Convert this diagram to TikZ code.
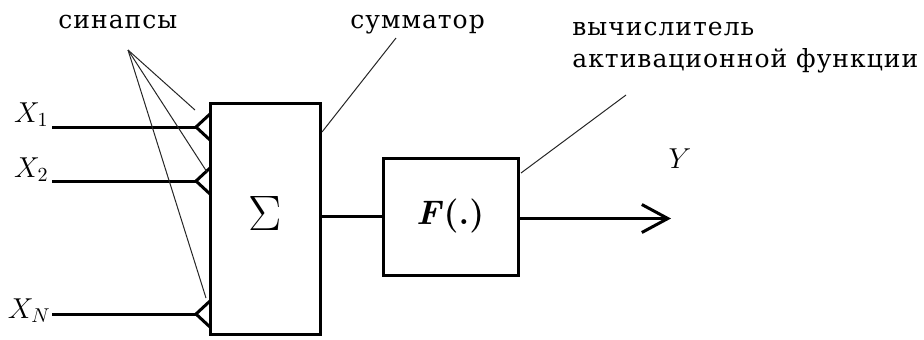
\documentclass[tikz,border=0pt]{standalone}
\usepackage{fontspec}
\usetikzlibrary{positioning,arrows.meta}
\newfontfamily\notefont[LetterSpace=4]{DejaVu Serif}

\begin{document}
\begin{tikzpicture}[
    x=0.5pt, y=-0.5pt,
    block/.style={
        rectangle, draw, line width=1.5pt,
        inner sep=0pt, font=\fontsize{17}{17}\selectfont
    },
    note/.style={
        font=\notefont\fontsize{12.5}{16}\selectfont,
        inner sep=0pt, anchor=base west
    },
    xin/.style={
        font=\fontsize{14.5}{14.5}\selectfont,
        inner sep=0pt, anchor=base east
    },
    wire/.style={line width=1.5pt},
    pointer/.style={line width=0.5pt, black!85}
]
\useasboundingbox (0,0) rectangle (924,339);

%% Blocks
\node[block, minimum width=55pt, minimum height=115.5pt]
    (sum) at (265,218.5) {\fontsize{33}{33}\selectfont\raisebox{5pt}{$\Sigma$}};
\node[block, minimum width=67.5pt, minimum height=58.5pt]
    (act) at (450.5,216.5) {\textbf{\textit{F}(.)}};

%% Inputs with synapses
\node[xin] (x1) at (49,122) {$X_1$};
\node[xin] (x2) at (49,177) {$X_2$};
\node[xin] (xN) at (51,318) {$X_N$};
\coordinate (in1) at (52,127);
\coordinate (in2) at (52,181);
\coordinate (inN) at (52,314);
\coordinate (s1) at (196,127);
\coordinate (s2) at (196,181);
\coordinate (sN) at (196,314);
\draw[wire] (in1) -- (s1);
\draw[wire] (in2) -- (s2);
\draw[wire] (inN) -- (sN);
\foreach \s in {s1,s2,sN}
    \draw[wire, line join=miter] ([shift={(14,-13)}]\s) -- (\s) -- ([shift={(14,13)}]\s);

%% Output
\coordinate (out) at (671,218.5);
\draw[wire] (sum.east |- act.west) -- (act.west);
\draw[wire, -{Straight Barb[length=13pt, width=14pt]}] (act.east |- out) -- (out);
\node[font=\fontsize{15}{15}\selectfont, inner sep=0pt] (y) at (680,159) {$Y$};

%% Labels and pointers
\node[note] (syn) at (58,28) {синапсы};
\node[note] (summ) at (350,28) {сумматор};
\node[note] (calc1) at (572,35) {вычислитель};
\node[note] (calc2) at (572,67) {активационной функции};

\coordinate (synp) at (128,50);
\coordinate (p1) at (195,110);
\coordinate (p2) at (207,172);
\coordinate (pN) at (206,298);
\draw[pointer] (synp) -- (p1);
\draw[pointer] (synp) -- (p2);
\draw[pointer] (synp) -- (pN);

\coordinate (summp) at (396,38);
\coordinate (sumend) at (322,132);
\draw[pointer] (summp) -- (sumend);

\coordinate (calcp) at (626,95);
\coordinate (actend) at (521,173);
\draw[pointer] (calcp) -- (actend);

\end{tikzpicture}
\end{document}
